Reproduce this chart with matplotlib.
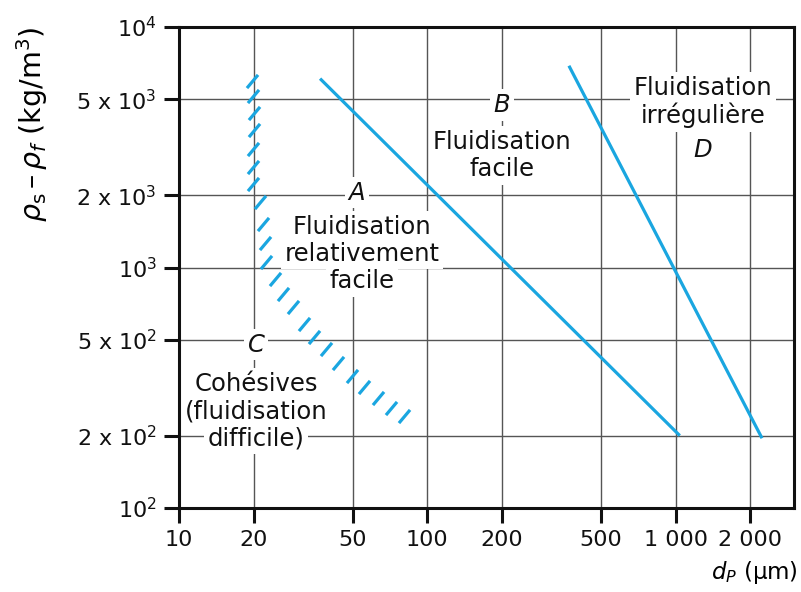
import numpy as np
import matplotlib
matplotlib.use("Agg")
import matplotlib.pyplot as plt
from matplotlib.path import Path

# Geldart-type diagram: particle size vs density difference

# boundary A/B and B/D (straight lines on log-log axes)
line_ab_x = [37, 1040]
line_ab_y = [6100, 200]
line_bd_x = [372, 2230]
line_bd_y = [6900, 195]

# hatched boundary C/A (positions of the short hatch strokes)
hatch_x = [19.7, 19.8, 20.0, 20.1, 19.9, 19.8, 19.9, 21.1, 21.8, 22.3, 22.5,
           24.4, 26.2, 28.8, 31.8, 34.9, 39.0, 43.8, 49.6, 55.8, 63.1, 71.3, 80.5]
hatch_y = [5960, 5190, 4390, 3730, 3110, 2620, 2220, 1880, 1520, 1260, 1050,
           900, 776, 686, 582, 512, 458, 399, 354, 319, 286, 261, 242]

x_ticks = [10, 20, 50, 100, 200, 500, 1000, 2000]
x_ticklabels = ["10", "20", "50", "100", "200", "500", "1 000", "2 000"]
y_ticks = [100, 200, 500, 1000, 2000, 5000, 10000]
y_ticklabels = ["10$^2$", "2 x 10$^2$", "5 x 10$^2$", "10$^3$",
                "2 x 10$^3$", "5 x 10$^3$", "10$^4$"]

# region labels: (x, y of block centre, lines, italic)
labels = [
    (52, 2050, ["A"], True),
    (54.6, 1140, ["Fluidisation", "relativement", "facile"], False),
    (200, 4740, ["B"], True),
    (200, 2920, ["Fluidisation", "facile"], False),
    (1290, 4900, ["Fluidisation", "irrégulière"], False),
    (1290, 3080, ["D"], True),
    (20.5, 477, ["C"], True),
    (20.5, 253, ["Cohésives", "(fluidisation", "difficile)"], False),
]

blue = "#1aa6e0"
line_step = 19.6  # points between text lines

fig = plt.figure(figsize=(8.01, 5.92), dpi=100)
ax = fig.add_axes([179 / 801, 1 - 508 / 592, 615 / 801, 481 / 592])
ax.set_xscale("log")
ax.set_yscale("log")
ax.set_xlim(10, 3000)
ax.set_ylim(100, 10000)

ax.set_xticks(x_ticks)
ax.set_xticklabels(x_ticklabels)
ax.set_yticks(y_ticks)
ax.set_yticklabels(y_ticklabels)
ax.minorticks_off()
ax.tick_params(axis="both", direction="out", length=11, width=2.2,
               labelsize=16, pad=5, colors="#111111")

ax.grid(True, color="#555555", linewidth=1.0)
ax.set_axisbelow(True)
for s in ax.spines.values():
    s.set_linewidth(2.2)
    s.set_color("#111111")

ax.plot(line_ab_x, line_ab_y, color=blue, lw=2.3, solid_capstyle="butt")
ax.plot(line_bd_x, line_bd_y, color=blue, lw=2.3, solid_capstyle="butt")

hatch = Path([(-0.42, -0.5), (0.42, 0.5)], [Path.MOVETO, Path.LINETO])
ax.plot(hatch_x, hatch_y, linestyle="none", marker=hatch, markersize=9.5,
        markeredgecolor=blue, markeredgewidth=2.3)

for x, y, lines, it in labels:
    n = len(lines)
    for i, txt in enumerate(lines):
        dy = ((n - 1) / 2 - i) * line_step
        ax.annotate(txt, (x, y), xytext=(0, dy), textcoords="offset points",
                    ha="center", va="center", fontsize=17.5,
                    style="italic" if it else "normal", color="#111111",
                    zorder=2.4,
                    bbox=dict(boxstyle="square,pad=0.15", fc="white", ec="none"))

ax.set_ylabel(r"$\rho_\mathrm{s}\,–\,\rho_f$ (kg/m$^3$)", fontsize=20.5, loc="top")
ax.yaxis.set_label_coords(-0.21, 1.0)
ax.set_xlabel(r"$d_P$ (µm)", fontsize=16.5, loc="right")
ax.xaxis.set_label_coords(1.0065, -0.105)

fig.savefig("out.png", dpi=100)
